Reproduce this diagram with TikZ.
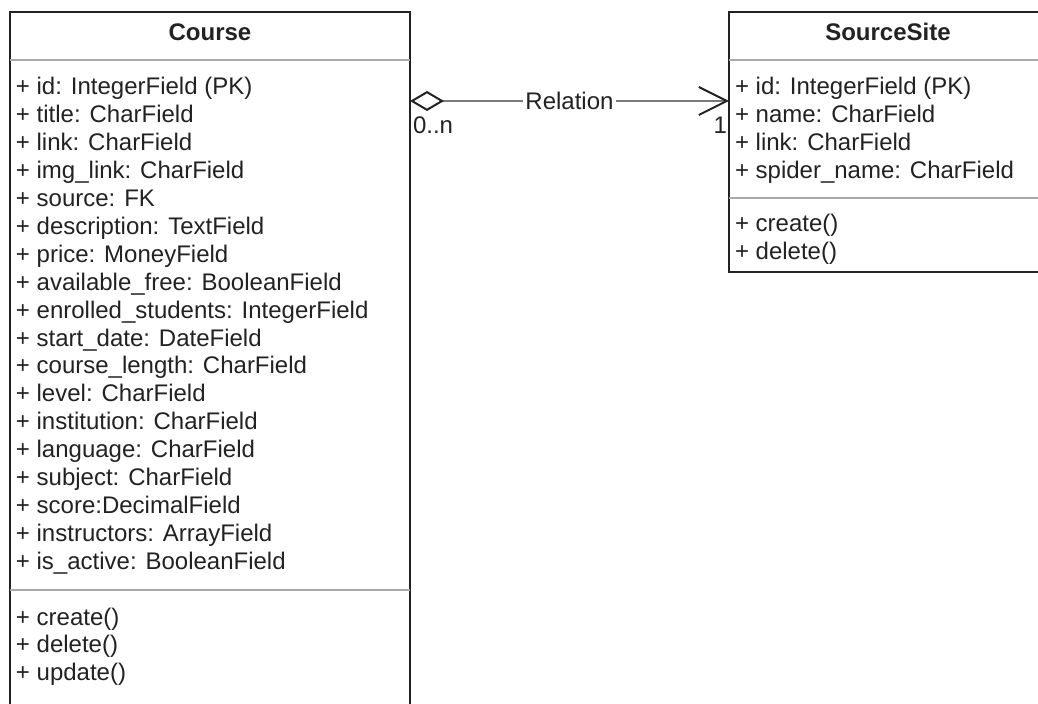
\documentclass[tikz,border=0pt]{standalone}
\usepackage{fontspec}
\setmainfont{Liberation Sans}
\usetikzlibrary{arrows.meta}
\definecolor{ink}{HTML}{222222}
\definecolor{frame}{HTML}{222222}
\definecolor{divider}{HTML}{AAAAAA}
\definecolor{wire}{HTML}{7A7A7A}

\begin{document}
\begin{tikzpicture}[x=0.5pt,y=-0.5pt,
  every node/.style={font=\fontsize{12}{14}\selectfont, text=ink, inner sep=0pt, outer sep=0pt},
  classbox/.style={draw=frame, line width=1pt, fill=white, anchor=north west},
  classtitle/.style={font=\fontsize{12}{14}\selectfont\bfseries, anchor=base},
  member/.style={anchor=base west},
  divline/.style={draw=divider, line width=1pt},
  assoc/.style={draw=wire, line width=1pt,
    {Diamond[open, fill=white, length=17pt, width=10pt, line width=1pt, color=frame]}-{Straight Barb[length=14pt, width=14pt, line width=1pt, color=frame]}},
  assoclabel/.style={fill=white, inner xsep=1pt, inner ysep=1pt}]

\useasboundingbox (0,0) rectangle (1038,704);
\clip (0,0) rectangle (1038,704);

% class boxes
\node[classbox, minimum width=200pt, minimum height=354pt] (course) at (10,12) {};
\node[classbox, minimum width=159pt, minimum height=130pt] (source) at (729,12) {};

% compartment dividers
\draw[divline] (course.west |- 0,60)  -- (course.east |- 0,60);
\draw[divline] (course.west |- 0,590) -- (course.east |- 0,590);
\draw[divline] (source.west |- 0,60)  -- (source.east |- 0,60);
\draw[divline] (source.west |- 0,198) -- (source.east |- 0,198);

% titles
\node[classtitle] (course-title) at (210,41) {Course};
\node[classtitle] (source-title) at (888,41) {SourceSite};

% Course attributes
\foreach \t [count=\i] in {
  + id: IntegerField (PK),
  + title: CharField,
  + link: CharField,
  + img\_link: CharField,
  + source: FK,
  + description: TextField,
  + price: MoneyField,
  + available\_free: BooleanField,
  + enrolled\_students: IntegerField,
  + start\_date: DateField,
  + course\_length: CharField,
  + level: CharField,
  + institution: CharField,
  + language: CharField,
  + subject: CharField,
  + score:DecimalField,
  + instructors: ArrayField,
  + is\_active: BooleanField}
  \node[member] (course-attr-\i) at (16,{95+(\i-1)*27.9}) {\t};

% Course operations
\foreach \t [count=\i] in {+ create(), + delete(), + update()}
  \node[member] (course-op-\i) at (16,{625+(\i-1)*28}) {\t};

% SourceSite attributes
\foreach \t [count=\i] in {
  + id: IntegerField (PK),
  + name: CharField,
  + link: CharField,
  + spider\_name: CharField}
  \node[member] (source-attr-\i) at (735,{95+(\i-1)*27.9}) {\t};

% SourceSite operations
\foreach \t [count=\i] in {+ create(), + delete()}
  \node[member] (source-op-\i) at (735,{232+(\i-1)*28}) {\t};

% aggregation between the two classes
\coordinate (relrow) at (0,101);
\draw[assoc] (course.east |- relrow) -- node[assoclabel] (rel-label) {Relation} (source.west |- relrow);
\node[anchor=base west] (mult-many) at (413,134) {0..n};
\node[anchor=base east] (mult-one) at (727,134) {1};
\end{tikzpicture}
\end{document}
